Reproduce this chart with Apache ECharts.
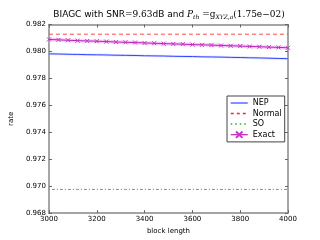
<!DOCTYPE html>
<html><head><meta charset="utf-8">
<script src="https://cdn.jsdelivr.net/npm/echarts@6/dist/echarts.min.js"></script>
<style>html,body{margin:0;padding:0;background:#fff}#c{width:320px;height:240px}</style>
</head><body><div id="c"></div>
<script>
const blockLength = [3000,3040,3080,3120,3160,3200,3240,3280,3320,3360,3400,3440,3480,3520,3560,3600,3640,3680,3720,3760,3800,3840,3880,3920,3960,4000];
const nep = [0.97982,0.97981,0.97979,0.97978,0.97976,0.97975,0.97974,0.97972,0.97971,0.97970,0.97968,0.97967,0.97966,0.97964,0.97963,0.97962,0.97960,0.97959,0.97958,0.97956,0.97955,0.97953,0.97952,0.97950,0.97948,0.97946];
const normal = 0.98128;
const so = 0.96976;
const exact = [0.98089,0.98086,0.98083,0.98080,0.98078,0.98076,0.98073,0.98070,0.98068,0.98066,0.98063,0.98061,0.98058,0.98056,0.98054,0.98051,0.98049,0.98047,0.98044,0.98042,0.98040,0.98037,0.98035,0.98032,0.98030,0.98027];
const seriesNames = ['NEP','Normal','SO','Exact'];
const yTicks = {min:0.968, max:0.982, interval:0.002};
const xTicks = {min:3000, max:4000, interval:200};

const pair = (ys) => blockLength.map((x,i)=>[x, Array.isArray(ys)?ys[i]:ys]);
const xMark = 'path://M0,0L10,10M10,0L0,10';
const chart = echarts.init(document.getElementById('c'), null, {renderer:'canvas'});
const axisCommon = {
  axisLine:{lineStyle:{color:'#888',width:1.5}},
  axisTick:{inside:true,length:3,lineStyle:{color:'#666'}},
  splitLine:{show:false}
};
chart.setOption({
  animation:false,
  title:{
    text:'{n|BIAGC with SNR}{m|=9.63}{n|dB and }{i|P}{s|th}{m| =g}{s|XYZ,a}{m|(1.75e−02)}',
    left:164, textAlign:'center', top:5,
    textStyle:{
      fontWeight:'normal',
      rich:{
        n:{fontFamily:'DejaVu Sans',fontSize:9,fontWeight:'normal',color:'#000'},
        m:{fontFamily:'DejaVu Serif',fontSize:9,fontWeight:'normal',color:'#000'},
        i:{fontFamily:'DejaVu Serif',fontStyle:'italic',fontWeight:'normal',fontSize:9,color:'#000'},
        s:{fontFamily:'DejaVu Serif',fontStyle:'italic',fontWeight:'normal',fontSize:6,color:'#000',verticalAlign:'bottom',padding:[4,0,0,0]}
      }
    }
  },
  grid:{left:40,right:32,top:24.5,bottom:24.3},
  legend:{
    data:[
      {name:'NEP',itemStyle:{opacity:0},lineStyle:{color:'#3344ff',width:1.2}},
      {name:'Normal',itemStyle:{opacity:0},lineStyle:{color:'#ff2222',width:1.5,type:[3,3]}},
      {name:'SO',itemStyle:{opacity:0},lineStyle:{color:'#33aa33',width:1.5,type:[1.5,3]}},
      {name:'Exact',lineStyle:{color:'#bb22bb',width:1.2}}
    ],
    orient:'vertical', left:227, top:96,
    itemWidth:17, itemHeight:8, itemGap:2.5,
    borderColor:'#444', borderWidth:1, padding:[3,3,3,3],
    textStyle:{fontSize:8,fontFamily:'DejaVu Sans',color:'#000',padding:[0,0,0,0]},
    backgroundColor:'#fff'
  },
  xAxis:[
    Object.assign({type:'value',min:xTicks.min,max:xTicks.max,interval:xTicks.interval,
      name:'block length',nameLocation:'middle',nameGap:13,
      nameTextStyle:{fontSize:7,fontFamily:'DejaVu Sans',color:'#000'},
      axisLabel:{fontSize:7,fontFamily:'DejaVu Sans',color:'#000',margin:3,showMinLabel:true,showMaxLabel:true,formatter:v=>String(v)}},axisCommon),
    Object.assign({type:'value',position:'top',min:xTicks.min,max:xTicks.max,interval:xTicks.interval,axisLabel:{show:false}},axisCommon)
  ],
  yAxis:[
    Object.assign({type:'value',min:yTicks.min,max:yTicks.max,interval:yTicks.interval,
      name:'rate',nameLocation:'middle',nameGap:28,nameRotate:90,
      nameTextStyle:{fontSize:7,fontFamily:'DejaVu Sans',color:'#000'},
      axisLabel:{fontSize:7,fontFamily:'DejaVu Sans',color:'#000',margin:3,formatter:v=>v.toFixed(3)}},axisCommon),
    Object.assign({type:'value',position:'right',min:yTicks.min,max:yTicks.max,interval:yTicks.interval,axisLabel:{show:false}},axisCommon)
  ],
  series:[
    {name:'NEP-band',type:'line',data:pair(nep),symbol:'none',lineStyle:{color:'#b8c0ff',width:2.5,opacity:0.45},silent:true,z:1},
    {name:'Exact-band',type:'line',data:pair(exact),symbol:'none',lineStyle:{color:'#f0a0f0',width:3.5,opacity:0.55},silent:true,z:1},
    {name:'NEP',type:'line',data:pair(nep),symbol:'none',color:'#3344ff',lineStyle:{color:'#3344ff',width:1},z:3},
    {name:'Normal',type:'line',data:pair(normal),symbol:'none',color:'#ff3333',lineStyle:{color:'#ff4444',width:1,type:[4,3]},z:3},
    {name:'SO',type:'line',data:pair(so),symbol:'none',color:'#44aa44',lineStyle:{color:'#55aa55',width:1,type:[1,2,3,2]},z:3},
    {name:'Exact',type:'line',data:pair(exact),symbol:xMark,symbolSize:4,showAllSymbol:true,color:'#cc33cc',
      itemStyle:{color:'#cc33cc',borderColor:'#cc33cc',borderWidth:1},lineStyle:{color:'#bb22bb',width:1},z:4}
  ]
});
</script></body></html>
